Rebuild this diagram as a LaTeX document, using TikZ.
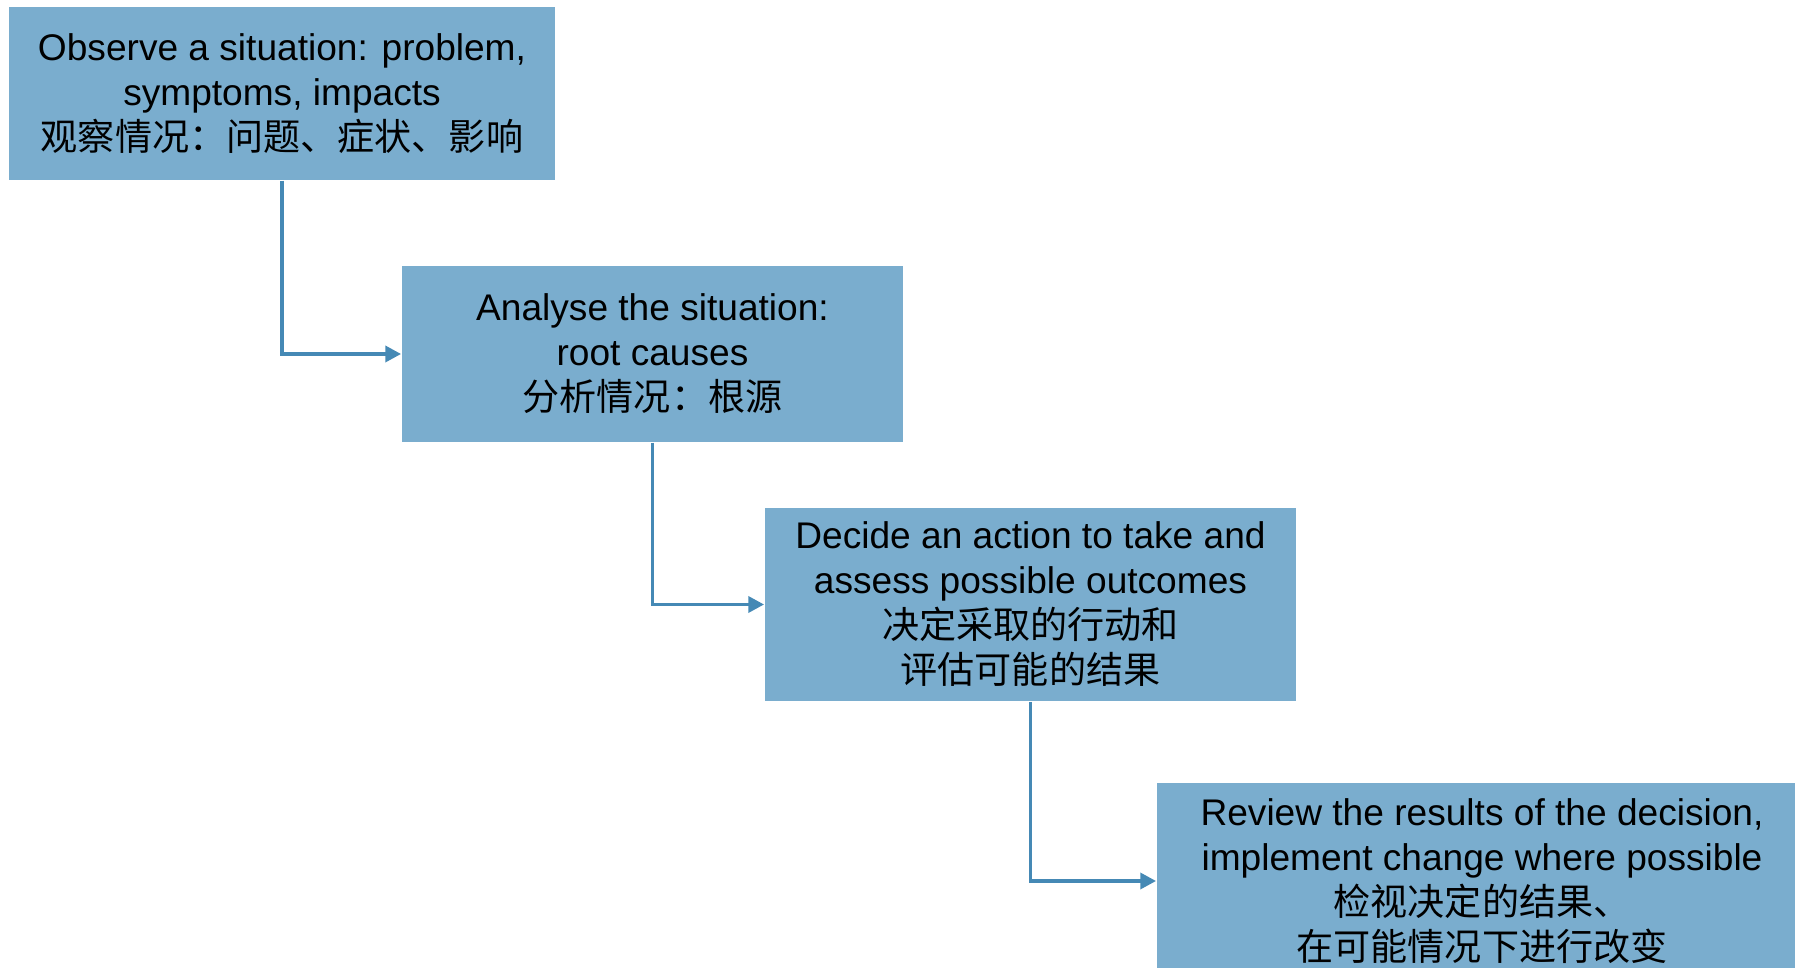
\documentclass[tikz,border=0pt]{standalone}
\usepackage{fontspec}
\setmainfont{Liberation Sans}
\newfontfamily\cjk{Noto Sans CJK SC}
\usetikzlibrary{arrows.meta}

\definecolor{stepfill}{RGB}{122,173,206}
\definecolor{flowline}{RGB}{69,137,181}

\begin{document}
\begin{tikzpicture}[
    x=0.01cm, y=-0.01cm,
    stage/.style={rectangle, fill=stepfill, inner sep=0pt, align=center,
        font=\fontsize{10.55pt}{12.8pt}\selectfont},
    arrow/.style={-{Triangle[length=4.5pt, width=4.5pt]}, line width=1.1pt, draw=flowline}
]
\useasboundingbox (0,0) rectangle (1795,968);
\clip (0,0) rectangle (1795,968);

% === Stages, stepping down to the right ===
\node[stage, minimum width=5.46cm, minimum height=1.73cm] (observe) at (282, 93.5)
    {Observe a situation: problem,\\ symptoms, impacts\\ {\cjk 观察情况：问题、症状、影响}};

\node[stage, minimum width=5.01cm, minimum height=1.76cm] (analyse) at (652.5, 354)
    {Analyse the situation:\\ root causes\\ {\cjk 分析情况：根源}};

\node[stage, minimum width=5.31cm, minimum height=1.93cm] (decide) at (1030.5, 604.5)
    {Decide an action to take and\\ assess possible outcomes\\ {\cjk 决定采取的行动和}\\ {\cjk 评估可能的结果}};

\node[stage, minimum width=6.50cm, minimum height=1.96cm] (review) at (1482, 881)
    {Review the results of the decision,\\ implement change where possible\\ {\cjk 检视决定的结果、}\\ {\cjk 在可能情况下进行改变}};

% === Connectors ===
\draw[arrow] (observe.south) |- (analyse.west);
\draw[arrow] (analyse.south) |- (decide.west);
\draw[arrow] (decide.south) |- (review.west);

\end{tikzpicture}
\end{document}
